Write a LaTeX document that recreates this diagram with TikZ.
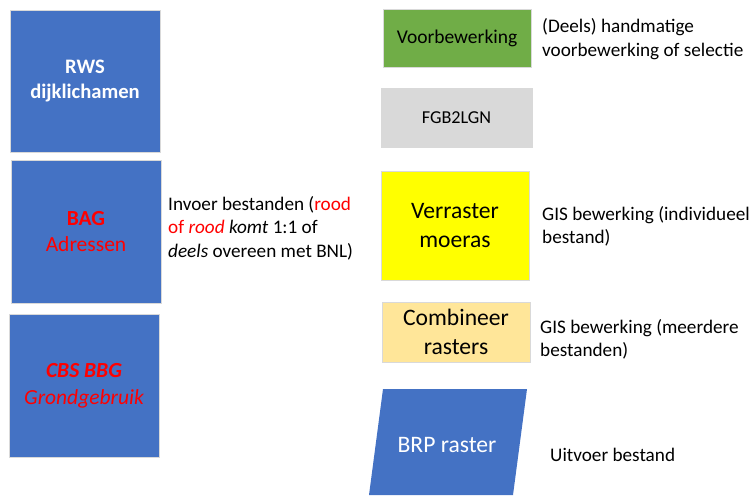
\documentclass[tikz,border=0pt]{standalone}
\usepackage{fontspec}
\setmainfont{Carlito}
\usepackage{xcolor}
\usetikzlibrary{positioning}
\definecolor{blauw}{HTML}{4472C4}
\definecolor{groen}{HTML}{70AD47}
\definecolor{grijs}{HTML}{D9D9D9}
\definecolor{geel}{HTML}{FFFF00}
\definecolor{oranje}{HTML}{FFE699}
\definecolor{rood}{HTML}{FF0000}

\begin{document}
\begin{tikzpicture}[x=1pt,y=-1pt,
  blok/.style={draw=black!15,line width=0.8pt,align=center,inner sep=0pt},
  uitleg/.style={anchor=west,align=left,inner sep=0pt,font=\fontsize{19.2}{23.5}\selectfont},
  groot/.style={font=\fontsize{23.6}{28.5}\selectfont}]
  \useasboundingbox (0,0) rectangle (754,495);
  % invoer
  \node[blok,fill=blauw,minimum width=150pt,minimum height=142pt,text=white,font=\fontsize{20.6}{25}\selectfont\bfseries] (rws) at (85,81) {RWS\\dijklichamen};
  \node[blok,fill=blauw,minimum width=150pt,minimum height=143pt,text=rood,font=\fontsize{21.5}{26}\selectfont] (bag) at (86,231.5) {\textbf{BAG}\\Adressen};
  \node[blok,fill=blauw,minimum width=150pt,minimum height=143pt,text=rood,font=\fontsize{21.5}{27}\selectfont\itshape] (cbs) at (84,385.5) {\textbf{CBS BBG}\\Grondgebruik};
  \node[uitleg] (invoer) at (168,228) {Invoer bestanden (\textcolor{rood}{rood}\\\textcolor{rood}{of \textit{rood}} \textit{komt} 1:1 of\\\textit{deels} overeen met BNL)};
  % bewerkingen
  \node[blok,fill=groen,minimum width=148pt,minimum height=58pt,font=\fontsize{19.5}{23}\selectfont] (voor) at (457,38) {Voorbewerking};
  \node[uitleg] (voortxt) at (542,39) {(Deels) handmatige\\voorbewerking of selectie};
  \node[blok,fill=grijs,minimum width=151pt,minimum height=59pt,font=\fontsize{18.2}{22}\selectfont] (fgb) at (456.5,117.5) {FGB2LGN};
  \node[blok,fill=geel,minimum width=148pt,minimum height=109pt,groot] (verr) at (455,225.5) {Verraster\\moeras};
  \node[uitleg] (verrtxt) at (542,226.5) {GIS bewerking (individueel\\bestand)};
  \node[blok,fill=oranje,minimum width=148pt,minimum height=60pt,groot] (comb) at (456,332) {Combineer\\rasters};
  \node[uitleg] (combtxt) at (540,339.5) {GIS bewerking (meerdere\\bestanden)};
  % uitvoer
  \fill[blauw] (383,389) -- (527,389) -- (513,495) -- (369,495) -- cycle;
  \node[groot,text=white] (brp) at (447,445) {BRP raster};
  \node[uitleg] (brptxt) at (550,455) {Uitvoer bestand};
\end{tikzpicture}
\end{document}
